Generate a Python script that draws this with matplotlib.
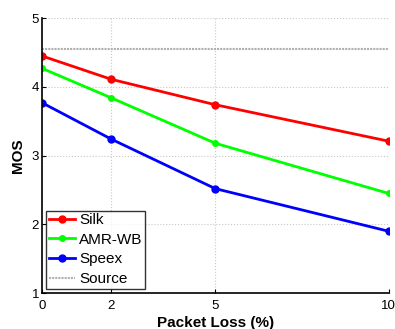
import matplotlib
matplotlib.use("Agg")
import matplotlib.pyplot as plt

plt.rcParams['font.family'] = ['Liberation Sans', 'DejaVu Sans']

loss = [0, 2, 5, 10]
silk = [4.45, 4.11, 3.74, 3.21]
amrwb = [4.27, 3.84, 3.18, 2.45]
speex = [3.77, 3.24, 2.52, 1.90]
source = 4.55

fig = plt.figure(figsize=(3.95, 3.29), dpi=100)
ax = fig.add_axes([0.106, 0.109, 0.878, 0.836])

ax.plot(loss, silk, color='#ff0000', lw=2, marker='o', ms=5, label='Silk')
ax.plot(loss, amrwb, color='#00ff00', lw=2, marker='o', ms=4, label='AMR-WB')
ax.plot(loss, speex, color='#0000ff', lw=2, marker='o', ms=5, label='Speex')
ax.axhline(source, color='#b0b0b0', lw=1.5, ls=(0, (1, 0.5)), label='Source')

ax.set_xlim(0, 10)
ax.set_ylim(1, 5)
ax.set_xticks(loss)
ax.set_yticks([1, 2, 3, 4, 5])
ax.grid(True, color='#c8c8c8', ls=':', lw=0.8)
ax.spines['top'].set_visible(False)
ax.spines['right'].set_visible(False)
ax.spines['left'].set_linewidth(1.2)
ax.spines['bottom'].set_linewidth(1.2)
ax.tick_params(labelsize=9.5, direction='in', length=3)
ax.tick_params(axis='x', pad=5)
ax.tick_params(axis='y', pad=2)
ax.set_xlabel('Packet Loss (%)', fontsize=11, fontweight='bold', labelpad=3)
ax.set_ylabel('MOS', fontsize=11, fontweight='bold', labelpad=5)

leg = ax.legend(loc='lower left', fontsize=11, fancybox=False, edgecolor='black',
                handlelength=1.7, handletextpad=0.3, borderpad=0.15, labelspacing=0.38,
                borderaxespad=0.3)
leg.get_frame().set_linewidth(1)

fig.savefig('out.png', dpi=100)
